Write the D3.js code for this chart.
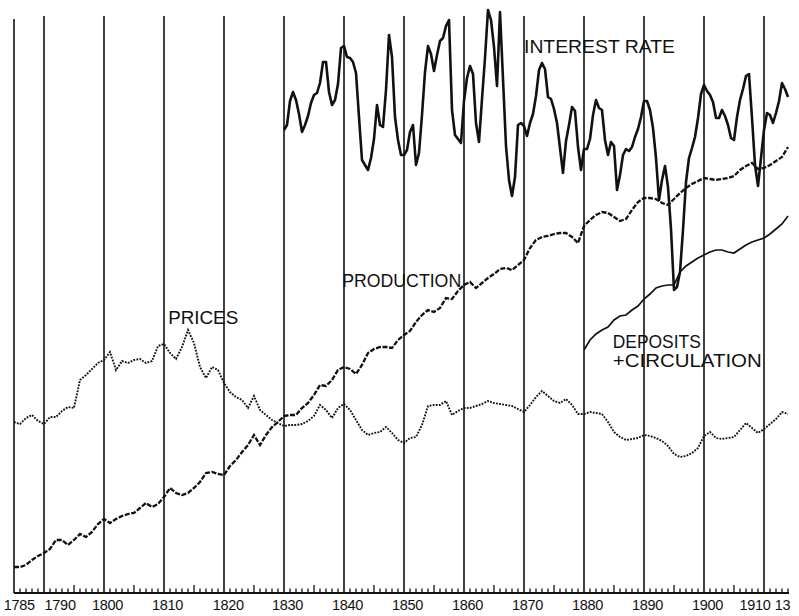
<!DOCTYPE html>
<html>
<head>
<meta charset="utf-8">
<script src="https://cdn.jsdelivr.net/npm/d3@7"></script>
<style>
  body { margin: 0; background: #fff; }
  svg { display: block; }
</style>
</head>
<body>
<div id="chart"></div>
<script>
// Index levels (arbitrary units, common scale)
const years = d3.range(1785, 1915);

const prices = [
  84, 83, 86, 87.5, 84.5, 83, 86.5, 86.5, 89.5, 91.5,
  91, 105, 107.5, 110.5, 113.5, 115, 119, 110, 114.5, 113.5,
  115, 115.5, 113.5, 114.5, 122, 123, 118.5, 115.5, 121.5, 130,
  123.5, 111.5, 106, 111.5, 110, 103.5, 99, 96.5, 95, 91,
  97, 90, 87.5, 85, 83.5, 82, 82.5, 82.5, 83, 84.5,
  87, 92.5, 90, 86, 91, 93, 90, 85, 80, 77.5,
  78.5, 79, 81.5, 78.5, 75, 73.5, 76, 76.5, 82.5, 92,
  92.5, 92.5, 94.5, 87.5, 89.5, 91, 91, 92, 93, 94.5,
  93.5, 93, 92.5, 92, 90.5, 89, 92.5, 96.5, 99.5, 97,
  94.5, 93.5, 95.5, 92.5, 88, 88, 89, 88.5, 88, 84,
  79, 76.5, 75, 75.5, 76, 77.5, 77, 76, 74.5, 72,
  68, 66.5, 67, 68.5, 71, 77, 79, 76, 75.5, 76,
  76.5, 80, 83.5, 81, 78.5, 80.5, 83, 85.5, 89, 88
];

const production = [
  11.5, 11.5, 12.5, 15, 17, 18.5, 20.5, 25, 25, 22.5,
  25, 28, 26.5, 29, 33, 35.5, 33.5, 35.5, 37, 38,
  38.5, 41, 43.5, 41.5, 43, 46.5, 51, 48.5, 47.5, 48.5,
  51, 54, 58.5, 59, 58, 57.5, 62, 65, 69, 72.5,
  77.5, 72.5, 77.5, 81.5, 84, 87, 87.5, 87.5, 91, 93.5,
  97.5, 102.5, 102, 105, 110, 111.5, 110.5, 108, 112.5, 118.5,
  120.5, 121.5, 121.5, 121, 125, 127.5, 129.5, 134, 137.5, 140,
  139, 141, 146, 145.5, 149.5, 152.5, 154, 151, 153.5, 156,
  158, 160.5, 161, 160, 162.5, 165, 171, 175, 176.5, 177,
  178, 178.5, 178.5, 176.5, 173.5, 182, 185, 187.5, 189, 188.5,
  186.5, 184.5, 185.5, 190, 194, 196, 196, 195.5, 193.5, 192.5,
  195.5, 198.5, 201, 203, 204.5, 206, 205.5, 205, 205.5, 206,
  207, 210, 212, 213.5, 210.5, 211, 212.5, 214.5, 216.5, 221.5
];

const depositYears = d3.range(1880, 1915);
const deposits = [
  120, 125, 128, 130, 131.5, 135, 137, 137.5, 140, 142,
  145.5, 148, 151, 152, 152.5, 152.5, 159, 162, 164, 166,
  167.5, 169, 170, 170, 169, 168.5, 170.5, 172.5, 174, 175,
  176, 178, 180.5, 183, 187
];

// Interest rate, half-yearly readings from 1830
const rateYears = d3.range(1830, 1914.25, 0.5);
const interestRate = [
  230, 232.5, 244.5, 249, 245, 238, 229, 232.5, 237, 243.5,
  247.5, 248.5, 253.5, 264, 264, 249, 242.5, 245, 253, 271,
  272, 266.5, 266, 264, 258.5, 236.5, 215, 212.5, 210, 216,
  225.5, 242.5, 232.5, 231.5, 250, 277.5, 266.5, 236.5, 225, 217.5,
  217.5, 220, 229, 232.5, 212.5, 218.5, 237.5, 259, 272, 268,
  259.5, 267.5, 274.5, 276, 282, 285, 240, 227.5, 225.5, 223.5,
  244.5, 256, 262, 258, 233.5, 224, 245.5, 266, 290, 285,
  271.5, 252, 289, 255.5, 222, 205, 197, 206.5, 232.5, 233.5,
  232, 227, 233.5, 238, 247, 260, 263.5, 260.5, 246.5, 245.5,
  240.5, 233.5, 221, 208.5, 224.5, 232.5, 241.5, 239.5, 221.5, 210,
  220.5, 220.5, 225.5, 237.5, 245, 241, 240, 225, 217.5, 224,
  222, 200, 207.5, 217.5, 220.5, 219.5, 221.5, 226.5, 230.5, 236.5,
  244.5, 244.5, 240, 231, 216, 195, 205, 212, 201.5, 180.5,
  150, 151.5, 159, 180, 204, 216, 221, 226.5, 236, 248,
  252.5, 249.5, 247.5, 244, 236, 236, 240, 237, 232.5, 226,
  225, 236.5, 245, 250.5, 257, 258, 236, 212.5, 202, 216,
  230, 238.5, 237.5, 233.5, 238.5, 244.5, 253.5, 250.5, 246.5
];

const gridYears = [1785, 1790, 1800, 1810, 1820, 1830, 1840, 1850, 1860, 1870, 1880, 1890, 1900, 1910];
const tickLabels = ['1785', '1790', '1800', '1810', '1820', '1830', '1840', '1850', '1860', '1870', '1880', '1890', '1900', '1910', '13'];
// where each label sits on the year axis, and how it is anchored there
const tickLabelYears = [1783.3, 1790.1, 1800.6, 1810.6, 1820.7, 1830.6, 1840.6, 1850.6, 1860.6, 1870.6, 1880.6, 1890.6, 1900.6, 1911.1, 1911.8];
const tickAnchors = ['start', 'start', 'middle', 'middle', 'middle', 'middle', 'middle', 'middle', 'middle', 'middle', 'middle', 'middle', 'middle', 'end', 'start'];

const width = 799;
const height = 616;
const baseline = 593;

const x = d3.scaleLinear().domain([1785, 1914]).range([14, 788]);
const y = d3.scaleLinear().domain([0, 295]).range([590, 0]);

const svg = d3.select('#chart').append('svg')
  .attr('width', width)
  .attr('height', height);

/////////////////////////////////////////////////////////
///////////////// Grid, axis and ticks //////////////////
/////////////////////////////////////////////////////////
svg.append('g').selectAll('line')
  .data(gridYears).enter()
  .append('line')
  .attr('x1', d => x(d)).attr('x2', d => x(d))
  .attr('y1', d => d === 1785 ? 19 : 16)
  .attr('y2', baseline)
  .attr('stroke', '#111')
  .attr('stroke-width', 1.6);

svg.append('line')
  .attr('x1', x(1785)).attr('x2', x(1914) + 1)
  .attr('y1', baseline).attr('y2', baseline)
  .attr('stroke', '#111').attr('stroke-width', 1.8);

// yearly ticks, taller every five years
svg.append('g').selectAll('line')
  .data(d3.range(1786, 1915).filter(d => d % 10 !== 0 && d !== 1790))
  .enter().append('line')
  .attr('x1', d => x(d)).attr('x2', d => x(d))
  .attr('y1', baseline)
  .attr('y2', d => d % 5 === 0 ? baseline - 8 : baseline - 4.5)
  .attr('stroke', '#111')
  .attr('stroke-width', 1.3);

svg.append('g').selectAll('text')
  .data(tickLabels).enter()
  .append('text')
  .attr('x', (d, i) => x(tickLabelYears[i]))
  .attr('y', 610)
  .attr('text-anchor', (d, i) => tickAnchors[i])
  .attr('font-family', 'Liberation Sans, Arial, sans-serif')
  .attr('font-size', 14.5)
  .attr('letter-spacing', -0.3)
  .attr('fill', '#111')
  .text(d => d);

/////////////////////////////////////////////////////////
////////////////////// Series ///////////////////////////
/////////////////////////////////////////////////////////
const line = d3.line().x(d => x(d[0])).y(d => y(d[1]));

svg.append('path')
  .datum(years.map((yr, i) => [yr, prices[i]]))
  .attr('fill', 'none')
  .attr('stroke', '#111')
  .attr('stroke-width', 1.9)
  .attr('stroke-dasharray', '1.8,1.3')
  .attr('d', line);

svg.append('path')
  .datum(years.map((yr, i) => [yr, production[i]]))
  .attr('fill', 'none')
  .attr('stroke', '#111')
  .attr('stroke-width', 2.3)
  .attr('stroke-dasharray', '5,1.6')
  .attr('d', line);

svg.append('path')
  .datum(depositYears.map((yr, i) => [yr, deposits[i]]))
  .attr('fill', 'none')
  .attr('stroke', '#111')
  .attr('stroke-width', 1.7)
  .attr('d', line);

svg.append('path')
  .datum(rateYears.map((yr, i) => [yr, interestRate[i]]))
  .attr('fill', 'none')
  .attr('stroke', '#111')
  .attr('stroke-width', 2.6)
  .attr('stroke-linejoin', 'round')
  .attr('d', line);

/////////////////////////////////////////////////////////
////////////////////// Labels ///////////////////////////
/////////////////////////////////////////////////////////
const labels = [
  {text: 'INTEREST  RATE', year: 1870, value: 268.5, len: 151},
  {text: 'PRODUCTION', year: 1839.7, value: 151.5, len: 119},
  {text: 'PRICES', year: 1810.7, value: 133, len: 70},
  {text: 'DEPOSITS', year: 1884.8, value: 121, len: 88},
  {text: '+CIRCULATION', year: 1884.8, value: 111.5, len: 149}
];

svg.append('g').selectAll('text')
  .data(labels).enter()
  .append('text')
  .attr('x', d => x(d.year))
  .attr('y', d => y(d.value))
  .attr('font-family', 'Liberation Sans, Arial, sans-serif')
  .attr('font-size', 19)
  .attr('textLength', d => d.len)
  .attr('lengthAdjust', 'spacingAndGlyphs')
  .attr('fill', '#111')
  .text(d => d.text);
</script>
</body>
</html>
